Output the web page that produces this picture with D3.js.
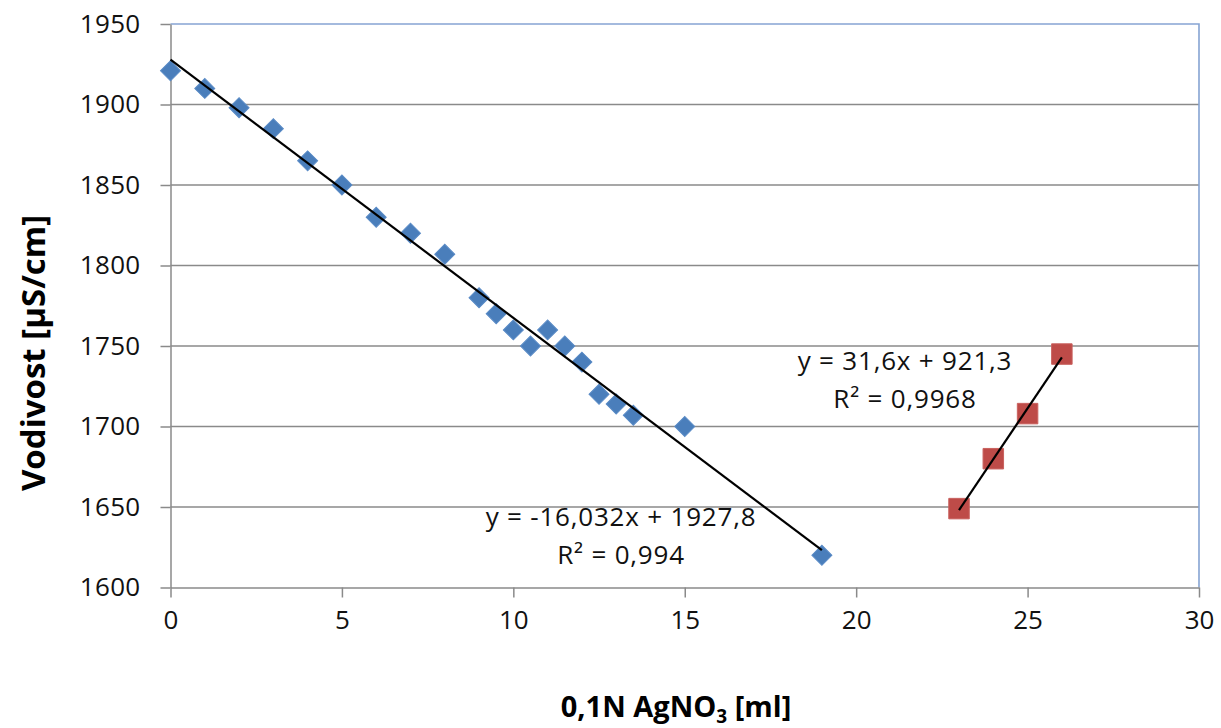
<!DOCTYPE html>
<html>
<head>
<meta charset="utf-8">
<script src="https://cdn.jsdelivr.net/npm/d3@7/dist/d3.min.js"></script>
<style>
  html, body { margin: 0; padding: 0; background: #fff; }
  svg { display: block; font-family: "Open Sans", "Noto Sans", sans-serif; }
</style>
</head>
<body>
<svg id="chart" width="1221" height="728"></svg>
<script>
// ---- data ----
const blueX = [0, 1, 2, 3, 4, 5, 6, 7, 8, 9, 9.5, 10, 10.5, 11, 11.5, 12, 12.5, 13, 13.5, 15, 19];
const blueY = [1921, 1910, 1898, 1885, 1865, 1850, 1830, 1820, 1807, 1780, 1770, 1760, 1750, 1760, 1750, 1740, 1720, 1714, 1707, 1700, 1620];
const redX = [23, 24, 25, 26];
const redY = [1649, 1680, 1708, 1745];
const blueTrend = { slope: -16.032, intercept: 1927.8, from: 0, to: 19 };
const redTrend = { slope: 31.6, intercept: 921.3, from: 23, to: 26 };
const blueLabel = ["y = -16,032x + 1927,8", "R² = 0,994"];
const redLabel = ["y = 31,6x + 921,3", "R² = 0,9968"];
const xTicks = [0, 5, 10, 15, 20, 25, 30];
const yTicks = [1600, 1650, 1700, 1750, 1800, 1850, 1900, 1950];
const xTitle = "0,1N AgNO";
const xTitleSub = "3";
const xTitleEnd = " [ml]";
const yTitle = "Vodivost [µS/cm]";

// ---- layout ----
const L = 170.5, R = 1199, T = 24, B = 587.5;
const svg = d3.select("#chart");
const x = d3.scaleLinear().domain([0, 30]).range([L, R]);
const y = d3.scaleLinear().domain([1600, 1950]).range([B, T]);

// gridlines
svg.append("g").selectAll("line")
  .data(yTicks.filter(v => v > 1600 && v < 1950))
  .join("line")
  .attr("x1", L).attr("x2", R)
  .attr("y1", d => y(d)).attr("y2", d => y(d))
  .attr("stroke", "#8a8a8a").attr("stroke-width", 1.5);

// plot border top/right (blue)
svg.append("path")
  .attr("d", `M${L},${T}H${R}V${B}`)
  .attr("fill", "none").attr("stroke", "#86A4D3").attr("stroke-width", 1.6);

// y axis
const yAxis = d3.axisLeft(y).tickValues(yTicks).tickSize(10).tickSizeOuter(0).tickPadding(20)
  .tickFormat(d3.format("d"));
const gy = svg.append("g").attr("transform", `translate(${L},0)`).call(yAxis);
gy.select(".domain").attr("stroke", "#8a8a8a").attr("stroke-width", 1.5);
gy.selectAll(".tick line").attr("stroke", "#8a8a8a").attr("stroke-width", 1.5);
gy.selectAll(".tick text").attr("font-size", 26).attr("fill", "#111")
  .attr("font-family", "'Open Sans', sans-serif").attr("letter-spacing", 0.3);

// x axis
const xAxis = d3.axisBottom(x).tickValues(xTicks).tickSize(10).tickSizeOuter(0).tickPadding(13)
  .tickFormat(d3.format("d"));
const gx = svg.append("g").attr("transform", `translate(0,${B})`).call(xAxis);
gx.select(".domain").attr("stroke", "#8a8a8a").attr("stroke-width", 1.5);
gx.selectAll(".tick line").attr("stroke", "#8a8a8a").attr("stroke-width", 1.5);
gx.selectAll(".tick text").attr("font-size", 26).attr("fill", "#111")
  .attr("font-family", "'Open Sans', sans-serif");

// trend lines
function trendLine(t) {
  const pts = [t.from, t.to].map(v => [x(v), y(t.slope * v + t.intercept)]);
  svg.append("path").attr("d", d3.line()(pts))
    .attr("stroke", "#000").attr("stroke-width", 2.2).attr("fill", "none");
}

// markers
const blue = blueX.map((v, i) => [v, blueY[i]]);
const red = redX.map((v, i) => [v, redY[i]]);
svg.append("g").selectAll("path").data(blue).join("path")
  .attr("d", d3.symbol(d3.symbolSquare, 200))
  .attr("transform", d => `translate(${x(d[0])},${y(d[1])}) rotate(45)`)
  .attr("fill", "#4A7EBB").attr("stroke", "#5A8BC6").attr("stroke-width", 1);
svg.append("g").selectAll("path").data(red).join("path")
  .attr("d", d3.symbol(d3.symbolSquare, 420))
  .attr("transform", d => `translate(${x(d[0])},${y(d[1])})`)
  .attr("fill", "#BE4B48").attr("stroke", "#C9615E").attr("stroke-width", 1);

trendLine(blueTrend);
trendLine(redTrend);

// equation labels
function eqLabel(lines, cx, by) {
  const g = svg.append("g").attr("font-size", 26).attr("fill", "#111").attr("text-anchor", "middle")
    .attr("letter-spacing", 0.8);
  lines.forEach((s, i) => {
    g.append("text").attr("x", cx).attr("y", by + i * 38).text(s);
  });
}
eqLabel(blueLabel, 621, 526);
eqLabel(redLabel, 905, 370);

// axis titles
const xt = svg.append("text").attr("x", 676).attr("y", 717).attr("text-anchor", "middle")
  .attr("font-size", 29).attr("font-weight", "bold").attr("fill", "#000");
xt.append("tspan").text(xTitle);
xt.append("tspan").attr("font-size", 19).attr("dy", 6).text(xTitleSub);
xt.append("tspan").attr("dy", -6).text(xTitleEnd);

svg.append("text")
  .attr("transform", "translate(45,353) rotate(-90)")
  .attr("text-anchor", "middle").attr("font-size", 33).attr("font-weight", "bold").attr("fill", "#000")
  .text(yTitle);
</script>
</body>
</html>
